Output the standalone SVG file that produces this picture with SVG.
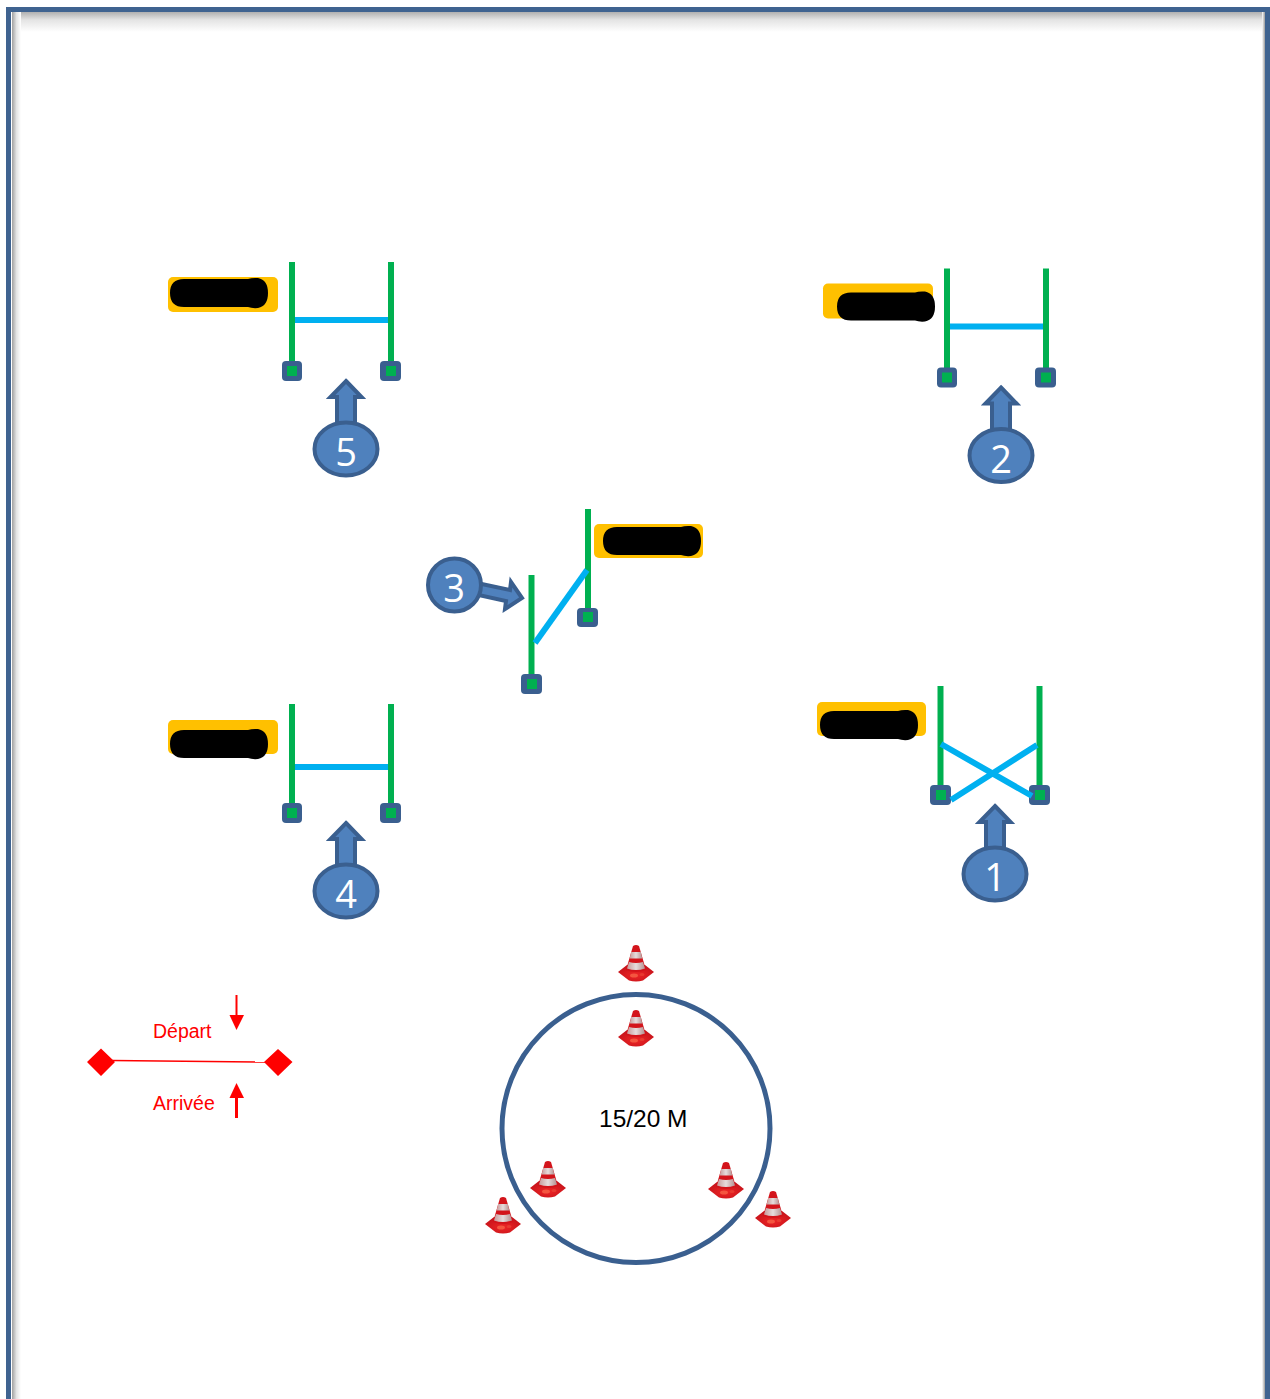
<svg xmlns="http://www.w3.org/2000/svg" width="1270" height="1399" viewBox="0 0 1270 1399">
<style>
.post{stroke:#00b050;stroke-width:6;fill:none}
.bar{stroke:#00b0f0;stroke-width:6;fill:none}
.foot{fill:#3a5f8f}
.core{fill:#00b050}
.tag{fill:#ffc000}
.blob{fill:#000}
.pin{fill:#4f81bd;stroke:#3a5f8f;stroke-width:4}
.num{font-family:"Open Sans","Liberation Sans",sans-serif;font-size:38px;fill:#fff;text-anchor:middle}
.red{font-family:"Liberation Sans",Arial,sans-serif;font-size:19.500px;fill:#f00}
</style>
<defs>
<linearGradient id="shT" x1="0" y1="0" x2="0" y2="1"><stop offset="0" stop-color="#b0b0b0"/><stop offset="0.4" stop-color="#e4e4e4"/><stop offset="1" stop-color="#fff"/></linearGradient>
<linearGradient id="shL" x1="0" y1="0" x2="1" y2="0"><stop offset="0" stop-color="#a0a0a0"/><stop offset="0.5" stop-color="#e4e4e4"/><stop offset="1" stop-color="#fff"/></linearGradient>
<linearGradient id="shR" x1="1" y1="0" x2="0" y2="0"><stop offset="0" stop-color="#999"/><stop offset="1" stop-color="#fff"/></linearGradient>
<radialGradient id="cb" cx="0.5" cy="0.6" r="0.6"><stop offset="0" stop-color="#ee2626"/><stop offset="1" stop-color="#c5121a"/></radialGradient>
<linearGradient id="cs" x1="0" y1="0" x2="1" y2="0"><stop offset="0" stop-color="#c79a9a"/><stop offset="0.5" stop-color="#e6dcdc"/><stop offset="1" stop-color="#b58f8f"/></linearGradient>
<g id="cone">
<path d="M-18 27 L-9 20 H9 L18 27 L7 35.500 Q0 37.500 -7 35.500 Z" fill="url(#cb)"/>
<path d="M-3 1 Q0 -1 3 1 L10 25 Q0 29 -10 25 Z" fill="#d3141b"/>
<path d="M-4.800 7 L4.800 7 L6.400 13.500 L-6.400 13.500 Z" fill="url(#cs)"/>
<path d="M-7 17 Q0 19 7 17 L9 23.500 Q0 26.500 -9 23.500 Z" fill="url(#cs)"/>
<ellipse cx="-2" cy="30.500" rx="4" ry="2" fill="#f4553f"/>
<ellipse cx="6" cy="29.500" rx="2.500" ry="1.500" fill="#e83a30"/>
</g>
<path id="blob" d="M14 0 H78 Q82 -1.500 88 -1 Q98 1 98 14 Q98 27 88 29 Q82 29.500 78 28 H14 Q0 28 0 14 Q0 0 14 0 Z"/>
</defs>

<g id="frame">
<rect x="12" y="12" width="1253" height="20" fill="url(#shT)"/>
<rect x="12" y="12" width="9" height="1387" fill="url(#shL)"/>
<rect x="1262" y="12" width="3" height="1387" fill="url(#shR)"/>
<path d="M8.500 1399 V9.500 H1267.500 V1399" fill="none" stroke="#3f6390" stroke-width="5"/>
</g>

<g id="connectors">
<line class="bar" x1="295" y1="320" x2="388" y2="320"/>
<line class="bar" x1="950" y1="326.500" x2="1043" y2="326.500"/>
<line class="bar" x1="295" y1="767" x2="388" y2="767"/>
</g>

<g id="station-5">
<rect class="tag" x="168" y="277" width="110" height="35" rx="5"/>
<use href="#blob" class="blob" x="170" y="279"/>
<line class="post" x1="292" y1="262" x2="292" y2="364"/><line class="post" x1="391" y1="262" x2="391" y2="364"/>
<rect class="foot" x="282" y="361" width="20" height="20" rx="4"/><rect class="core" x="287" y="366" width="10" height="10"/>
<rect class="foot" x="380" y="361" width="21" height="20" rx="4"/><rect class="core" x="386" y="366" width="10" height="10"/>
<path class="pin" d="M346 381 L361.500 397 H355 V425 H337 V397 H330.500 Z"/>
<ellipse class="pin" cx="346" cy="449" rx="31.500" ry="26.500"/>
<text class="num" x="346" y="466">5</text>
</g>

<g id="station-2" transform="translate(655 6.500)">
<rect class="tag" x="168" y="277" width="110" height="35" rx="5"/>
<use href="#blob" class="blob" x="182" y="286"/>
<line class="post" x1="292" y1="262" x2="292" y2="364"/><line class="post" x1="391" y1="262" x2="391" y2="364"/>
<rect class="foot" x="282" y="361" width="20" height="20" rx="4"/><rect class="core" x="287" y="366" width="10" height="10"/>
<rect class="foot" x="380" y="361" width="21" height="20" rx="4"/><rect class="core" x="386" y="366" width="10" height="10"/>
<path class="pin" d="M346 381 L361.500 397 H355 V425 H337 V397 H330.500 Z"/>
<ellipse class="pin" cx="346" cy="449" rx="31.500" ry="26.500"/>
<text class="num" x="346" y="466">2</text>
</g>

<g id="station-4" transform="translate(0 442)">
<rect class="tag" x="168" y="278" width="110" height="34" rx="5"/>
<use href="#blob" class="blob" x="170" y="288"/>
<line class="post" x1="292" y1="262" x2="292" y2="364"/><line class="post" x1="391" y1="262" x2="391" y2="364"/>
<rect class="foot" x="282" y="361" width="20" height="20" rx="4"/><rect class="core" x="287" y="366" width="10" height="10"/>
<rect class="foot" x="380" y="361" width="21" height="20" rx="4"/><rect class="core" x="386" y="366" width="10" height="10"/>
<path class="pin" d="M346 381 L361.500 397 H355 V425 H337 V397 H330.500 Z"/>
<ellipse class="pin" cx="346" cy="449" rx="31.500" ry="26.500"/>
<text class="num" x="346" y="466">4</text>
</g>

<g id="station-3">
<rect class="tag" x="594" y="524" width="109" height="34" rx="5"/>
<use href="#blob" class="blob" x="603" y="527"/>
<line class="post" x1="531.500" y1="575" x2="531.500" y2="678"/><line class="post" x1="588" y1="509" x2="588" y2="612"/>
<rect class="foot" x="521" y="674" width="21" height="20" rx="4"/><rect class="core" x="527" y="679" width="10" height="10"/>
<rect class="foot" x="577" y="608" width="21" height="19" rx="4"/><rect class="core" x="583" y="612" width="10" height="10"/>
<path class="pin" d="M477 583 L510 590 L511 582 L522 598 L505 609 L506 601 L474 594 Z"/>
<circle class="pin" cx="454.500" cy="585" r="26.500"/>
<text class="num" x="454" y="602">3</text>
<path class="bar" d="M587 570 L535 643"/>
</g>

<g id="station-1">
<rect class="tag" x="817" y="702" width="109" height="34" rx="5"/>
<use href="#blob" class="blob" x="820" y="711"/>
<line class="post" x1="940.500" y1="686" x2="940.500" y2="788"/><line class="post" x1="1039.500" y1="686" x2="1039.500" y2="788"/>
<rect class="foot" x="930" y="785" width="21" height="20" rx="4"/><rect class="core" x="936" y="790" width="10" height="10"/>
<rect class="foot" x="1029" y="785" width="21" height="20" rx="4"/><rect class="core" x="1035" y="790" width="10" height="10"/>
<path class="bar" d="M941 744 L1032 796 M1037 745 L951 800"/>
<path class="pin" d="M995 806 L1010.500 822 H1004 V850 H986 V822 H979.500 Z"/>
<ellipse class="pin" cx="995" cy="874" rx="31.500" ry="26.500"/>
<text class="num" x="995" y="891">1</text>
</g>

<g id="start-finish">
<line x1="112" y1="1060.500" x2="266" y2="1062" stroke="#f00" stroke-width="1.500"/>
<path d="M101 1048.500 L115 1062 L101 1076 L87 1062 Z M278 1049 L292.500 1062 L278 1076 L264 1062 Z" fill="#f00"/>
<path d="M236.500 995 V1016" stroke="#f00" stroke-width="2"/><path d="M229.500 1015 H244 L236.500 1030 Z" fill="#f00"/>
<path d="M236.500 1118 V1097" stroke="#f00" stroke-width="3"/><path d="M229.500 1098 H244 L236.500 1083 Z" fill="#f00"/>
<text class="red" x="153" y="1038">Départ</text>
<text class="red" x="153" y="1110">Arrivée</text>
</g>

<g id="ring">
<circle cx="636" cy="1128.500" r="134" fill="none" stroke="#3a5f8f" stroke-width="5"/>
<text x="599" y="1127" font-family="'Liberation Sans',Arial,sans-serif" font-size="24.500" fill="#000">15/20 M</text>
</g>

<g id="cones">
<use href="#cone" x="636" y="945"/>
<use href="#cone" x="636" y="1010"/>
<use href="#cone" x="548" y="1161"/>
<use href="#cone" x="726" y="1162"/>
<use href="#cone" x="503" y="1197"/>
<use href="#cone" x="773" y="1191"/>
</g>
</svg>
